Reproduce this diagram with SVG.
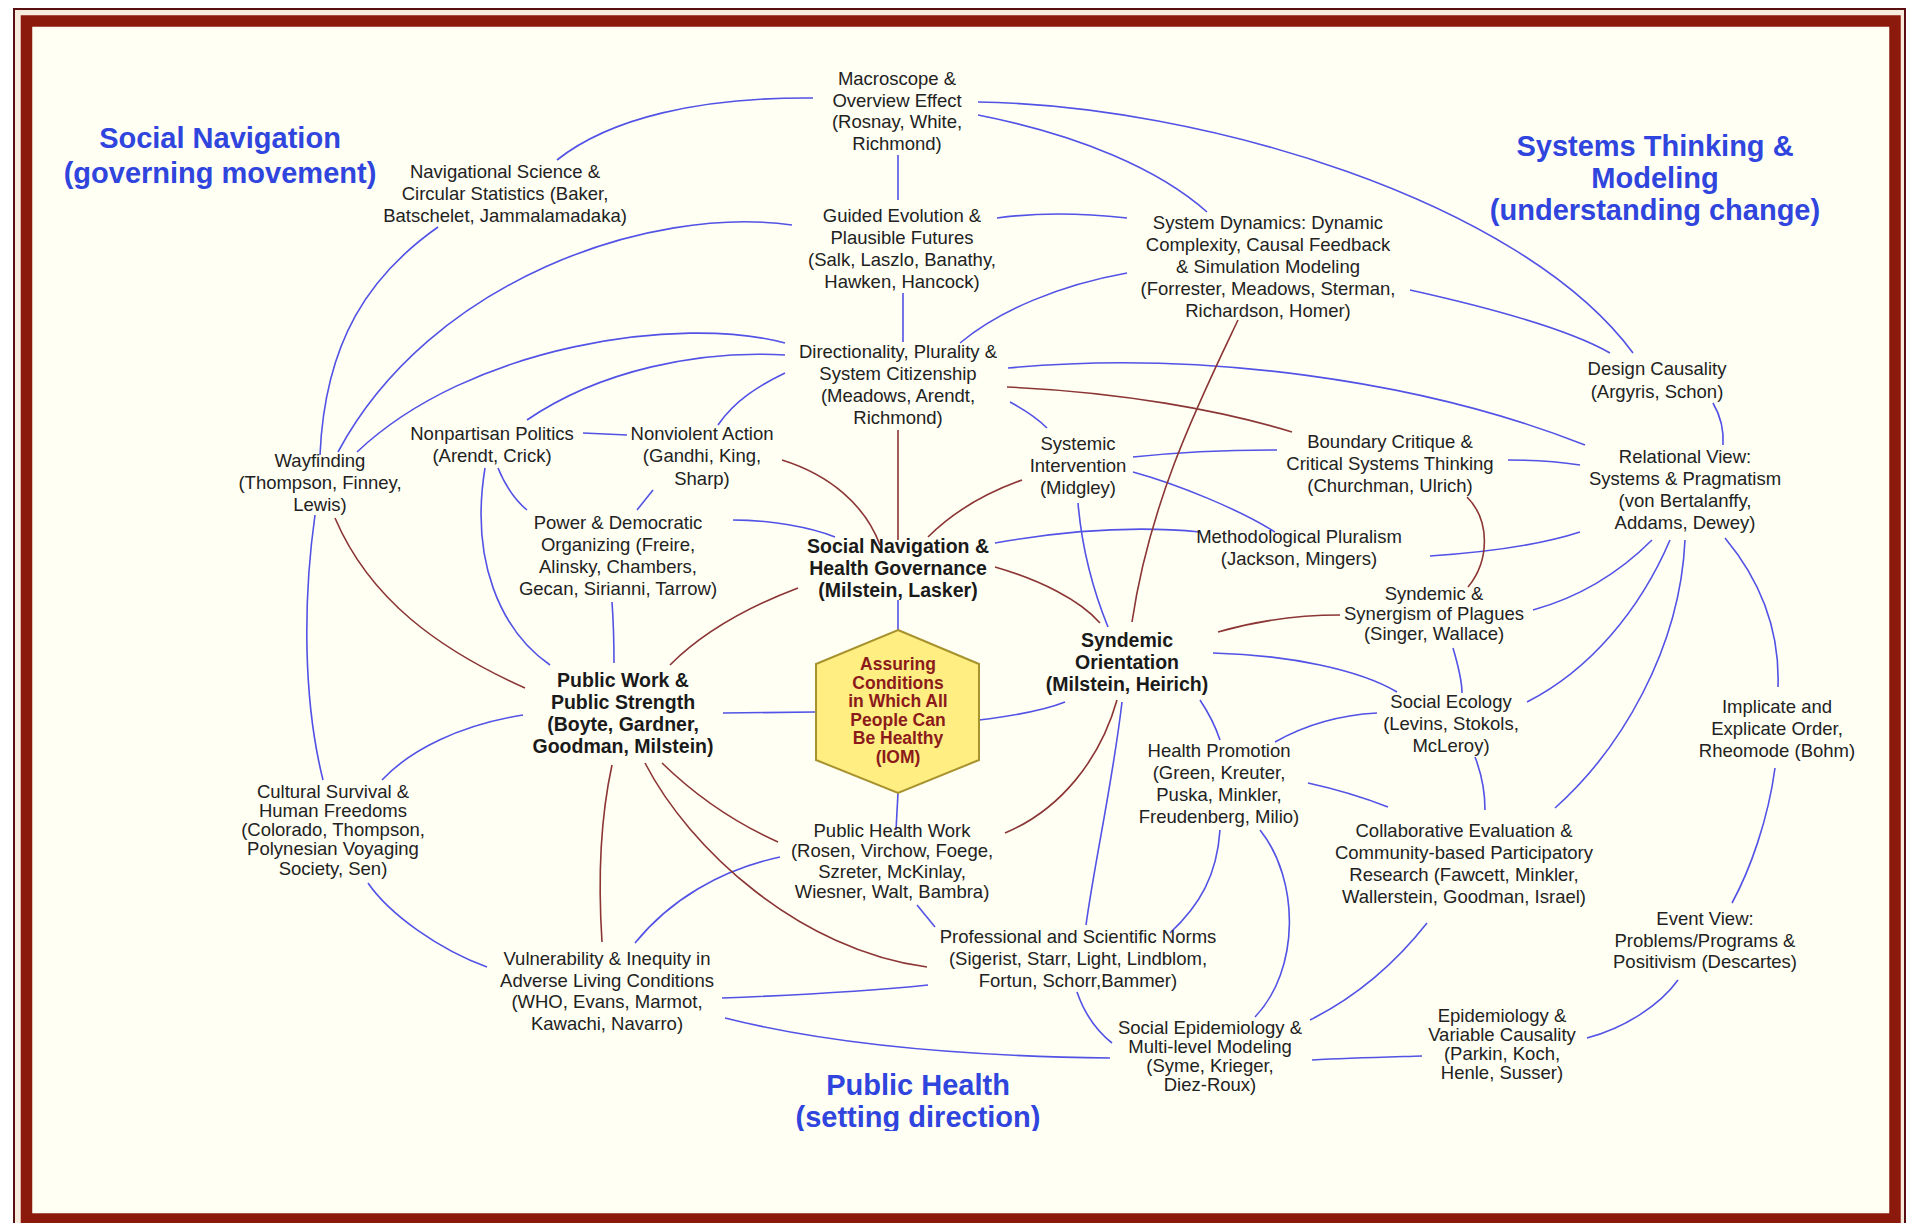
<svg xmlns="http://www.w3.org/2000/svg" width="1910" height="1223" viewBox="0 0 1910 1223">
<defs>
<style>
.n{font-family:"Liberation Sans",Arial,sans-serif;font-size:18.5px;fill:#222;text-anchor:middle}
.bn{font-family:"Liberation Sans",Arial,sans-serif;font-size:19.5px;font-weight:bold;fill:#1a1a1a;text-anchor:middle}
.t{font-family:"Liberation Sans",Arial,sans-serif;font-size:29px;font-weight:bold;fill:#2F45DD;text-anchor:middle}
.hx{font-family:"Liberation Sans",Arial,sans-serif;font-size:17.5px;font-weight:bold;fill:#8B1A1A;text-anchor:middle}
.b{stroke:#5252E6;stroke-width:1.6;fill:none}
.r{stroke:#8B3535;stroke-width:1.6;fill:none}
</style>
<clipPath id="clipPH"><rect x="0" y="0" width="1910" height="1131"/></clipPath>
</defs>
<rect x="0" y="0" width="1910" height="1223" fill="#FFFFFF"/>
<rect x="14" y="9" width="1891" height="1240" fill="#F6EBDD" stroke="#5A1010" stroke-width="2"/>
<rect x="26.5" y="21" width="1868.5" height="1198" fill="#FFFFF3" stroke="#8C1A0C" stroke-width="11.5"/>

<g id="titles">
<text class="t" x="220" y="148">Social Navigation</text>
<text class="t" x="220" y="183">(governing movement)</text>
<text class="t" x="1655" y="156">Systems Thinking &amp;</text>
<text class="t" x="1655" y="188">Modeling</text>
<text class="t" x="1655" y="220">(understanding change)</text>
<text class="t" x="918" y="1095">Public Health</text>
<text class="t" x="918" y="1127" clip-path="url(#clipPH)">(setting direction)</text>
</g>

<g id="connectors">
<path class="b" d="M557,160 C610,118 700,97 813,98"/>
<path class="b" d="M438,227 C370,275 325,340 320,455"/>
<path class="b" d="M792,225 C650,205 430,280 338,452"/>
<path class="b" d="M785,343 C680,315 470,345 357,452"/>
<path class="b" d="M785,355 C700,350 600,370 527,420"/>
<path class="b" d="M785,373 C760,385 735,400 718,425"/>
<path class="b" d="M583,433 L627,435"/>
<path class="b" d="M485,468 C470,560 500,630 550,665"/>
<path class="b" d="M498,468 C505,485 515,500 527,510"/>
<path class="b" d="M653,490 L637,510"/>
<path class="b" d="M733,520 C770,520 810,527 835,537"/>
<path class="b" d="M612,602 C614,630 614,650 614,663"/>
<path class="b" d="M723,713 L815,712"/>
<path class="b" d="M898,600 L898,630"/>
<path class="b" d="M898,793 L896,830"/>
<path class="b" d="M979,720 C1020,715 1045,710 1065,702"/>
<path class="b" d="M523,715 C460,725 410,750 382,780"/>
<path class="b" d="M315,515 C303,600 303,700 323,780"/>
<path class="b" d="M368,883 C390,915 440,950 487,967"/>
<path class="b" d="M635,943 C670,900 720,870 780,857"/>
<path class="b" d="M722,998 C800,995 880,990 928,985"/>
<path class="b" d="M725,1018 C820,1042 950,1056 1110,1058"/>
<path class="b" d="M917,905 L935,927"/>
<path class="b" d="M1122,702 C1113,780 1095,860 1086,925 M1077,992 C1085,1015 1098,1032 1112,1043"/>
<path class="b" d="M1200,700 C1210,715 1216,728 1220,740"/>
<path class="b" d="M1275,742 C1305,725 1340,715 1377,713"/>
<path class="b" d="M1213,653 C1290,655 1360,670 1397,692"/>
<path class="b" d="M1308,783 C1340,790 1365,798 1388,807"/>
<path class="b" d="M1220,830 C1217,875 1200,905 1170,933"/>
<path class="b" d="M1260,830 C1300,880 1300,970 1255,1017"/>
<path class="b" d="M1427,923 C1390,970 1350,1000 1310,1020"/>
<path class="b" d="M1312,1060 C1350,1058 1390,1057 1422,1056"/>
<path class="b" d="M1587,1038 C1625,1028 1660,1005 1678,980"/>
<path class="b" d="M1732,903 C1750,870 1768,820 1775,768"/>
<path class="b" d="M1725,538 C1760,580 1780,630 1778,687"/>
<path class="b" d="M1652,540 C1620,572 1580,597 1533,610"/>
<path class="b" d="M1670,540 C1640,610 1590,670 1527,702"/>
<path class="b" d="M1685,540 C1680,650 1620,750 1555,808"/>
<path class="b" d="M1430,556 C1490,552 1540,545 1580,532"/>
<path class="b" d="M1508,460 C1540,460 1560,462 1580,465"/>
<path class="b" d="M1008,368 C1200,350 1420,380 1585,445"/>
<path class="b" d="M978,102 C1200,105 1520,200 1633,353"/>
<path class="b" d="M978,115 C1080,135 1160,170 1207,212"/>
<path class="b" d="M997,218 C1040,212 1090,214 1127,218"/>
<path class="b" d="M1127,273 C1060,285 1000,310 960,343"/>
<path class="b" d="M1410,290 C1500,310 1570,330 1610,353"/>
<path class="b" d="M1713,403 C1720,415 1724,430 1723,445"/>
<path class="b" d="M898,155 L898,200"/>
<path class="b" d="M903,293 L903,342"/>
<path class="b" d="M1010,402 C1025,410 1037,418 1047,428"/>
<path class="b" d="M1133,457 C1180,452 1230,450 1277,450"/>
<path class="b" d="M1133,472 C1180,485 1240,510 1275,532"/>
<path class="b" d="M1078,503 C1082,550 1095,595 1108,627"/>
<path class="b" d="M995,543 C1080,528 1150,527 1200,532"/>
<path class="b" d="M1453,648 C1458,665 1462,680 1462,693"/>
<path class="b" d="M1475,757 C1482,775 1485,792 1485,810"/>
<path class="r" d="M335,518 C370,600 440,650 525,688"/>
<path class="r" d="M898,430 L898,540"/>
<path class="r" d="M782,460 C830,475 865,505 880,545"/>
<path class="r" d="M1022,480 C980,495 950,515 928,537"/>
<path class="r" d="M798,588 C740,610 700,635 670,665"/>
<path class="r" d="M995,567 C1040,580 1080,600 1100,623"/>
<path class="r" d="M1007,387 C1120,392 1220,410 1292,432"/>
<path class="r" d="M1238,320 C1200,400 1150,500 1132,622"/>
<path class="r" d="M1467,497 C1490,520 1490,560 1468,587"/>
<path class="r" d="M1218,632 C1260,620 1300,615 1340,615"/>
<path class="r" d="M1117,700 C1100,760 1060,810 1005,833"/>
<path class="r" d="M662,763 C700,800 740,825 778,842"/>
<path class="r" d="M645,763 C690,850 800,950 927,967"/>
<path class="r" d="M612,765 C600,820 598,880 602,942"/>
</g>

<g id="center">
<polygon points="898,630 979,664 979,760 898,793 816,760 816,664" fill="#FFEE82" stroke="#A8922E" stroke-width="2"/>
<text class="hx"><tspan x="898" y="670">Assuring</tspan><tspan x="898" y="689">Conditions</tspan><tspan x="898" y="707">in Which All</tspan><tspan x="898" y="726">People Can</tspan><tspan x="898" y="744">Be Healthy</tspan><tspan x="898" y="763">(IOM)</tspan></text>
</g>

<g id="macroscope"><text class="n"><tspan x="897" y="85">Macroscope &amp;</tspan><tspan x="897" y="107">Overview Effect</tspan><tspan x="897" y="128">(Rosnay, White,</tspan><tspan x="897" y="150">Richmond)</tspan></text></g>
<g id="guided"><text class="n"><tspan x="902" y="222">Guided Evolution &amp;</tspan><tspan x="902" y="244">Plausible Futures</tspan><tspan x="902" y="266">(Salk, Laszlo, Banathy,</tspan><tspan x="902" y="288">Hawken, Hancock)</tspan></text></g>
<g id="directionality"><text class="n"><tspan x="898" y="358">Directionality, Plurality &amp;</tspan><tspan x="898" y="380">System Citizenship</tspan><tspan x="898" y="402">(Meadows, Arendt,</tspan><tspan x="898" y="424">Richmond)</tspan></text></g>
<g id="sysdyn"><text class="n"><tspan x="1268" y="229">System Dynamics: Dynamic</tspan><tspan x="1268" y="251">Complexity, Causal Feedback</tspan><tspan x="1268" y="273">&amp; Simulation Modeling</tspan><tspan x="1268" y="295">(Forrester, Meadows, Sterman,</tspan><tspan x="1268" y="317">Richardson, Homer)</tspan></text></g>
<g id="navsci"><text class="n"><tspan x="505" y="178">Navigational Science &amp;</tspan><tspan x="505" y="200">Circular Statistics (Baker,</tspan><tspan x="505" y="222">Batschelet, Jammalamadaka)</tspan></text></g>
<g id="design"><text class="n"><tspan x="1657" y="375">Design Causality</tspan><tspan x="1657" y="398">(Argyris, Schon)</tspan></text></g>
<g id="relational"><text class="n"><tspan x="1685" y="463">Relational View:</tspan><tspan x="1685" y="485">Systems &amp; Pragmatism</tspan><tspan x="1685" y="507">(von Bertalanffy,</tspan><tspan x="1685" y="529">Addams, Dewey)</tspan></text></g>
<g id="wayfinding"><text class="n"><tspan x="320" y="467">Wayfinding</tspan><tspan x="320" y="489">(Thompson, Finney,</tspan><tspan x="320" y="511">Lewis)</tspan></text></g>
<g id="nonpartisan"><text class="n"><tspan x="492" y="440">Nonpartisan Politics</tspan><tspan x="492" y="462">(Arendt, Crick)</tspan></text></g>
<g id="nonviolent"><text class="n"><tspan x="702" y="440">Nonviolent Action</tspan><tspan x="702" y="462">(Gandhi, King,</tspan><tspan x="702" y="485">Sharp)</tspan></text></g>
<g id="power"><text class="n"><tspan x="618" y="529">Power &amp; Democratic</tspan><tspan x="618" y="551">Organizing (Freire,</tspan><tspan x="618" y="573">Alinsky, Chambers,</tspan><tspan x="618" y="595">Gecan, Sirianni, Tarrow)</tspan></text></g>
<g id="socnav"><text class="bn"><tspan x="898" y="553">Social Navigation &amp;</tspan><tspan x="898" y="575">Health Governance</tspan><tspan x="898" y="597">(Milstein, Lasker)</tspan></text></g>
<g id="methpl"><text class="n"><tspan x="1299" y="543">Methodological Pluralism</tspan><tspan x="1299" y="565">(Jackson, Mingers)</tspan></text></g>
<g id="sysint"><text class="n"><tspan x="1078" y="450">Systemic</tspan><tspan x="1078" y="472">Intervention</tspan><tspan x="1078" y="494">(Midgley)</tspan></text></g>
<g id="boundary"><text class="n"><tspan x="1390" y="448">Boundary Critique &amp;</tspan><tspan x="1390" y="470">Critical Systems Thinking</tspan><tspan x="1390" y="492">(Churchman, Ulrich)</tspan></text></g>
<g id="synergism"><text class="n"><tspan x="1434" y="600">Syndemic &amp;</tspan><tspan x="1434" y="620">Synergism of Plagues</tspan><tspan x="1434" y="640">(Singer, Wallace)</tspan></text></g>
<g id="syndemic"><text class="bn"><tspan x="1127" y="647">Syndemic</tspan><tspan x="1127" y="669">Orientation</tspan><tspan x="1127" y="691">(Milstein, Heirich)</tspan></text></g>
<g id="publicwork"><text class="bn"><tspan x="623" y="687">Public Work &amp;</tspan><tspan x="623" y="709">Public Strength</tspan><tspan x="623" y="731">(Boyte, Gardner,</tspan><tspan x="623" y="753">Goodman, Milstein)</tspan></text></g>
<g id="socecol"><text class="n"><tspan x="1451" y="708">Social Ecology</tspan><tspan x="1451" y="730">(Levins, Stokols,</tspan><tspan x="1451" y="752">McLeroy)</tspan></text></g>
<g id="healthpromo"><text class="n"><tspan x="1219" y="757">Health Promotion</tspan><tspan x="1219" y="779">(Green, Kreuter,</tspan><tspan x="1219" y="801">Puska, Minkler,</tspan><tspan x="1219" y="823">Freudenberg, Milio)</tspan></text></g>
<g id="implicate"><text class="n"><tspan x="1777" y="713">Implicate and</tspan><tspan x="1777" y="735">Explicate Order,</tspan><tspan x="1777" y="757">Rheomode (Bohm)</tspan></text></g>
<g id="cultural"><text class="n"><tspan x="333" y="798">Cultural Survival &amp;</tspan><tspan x="333" y="817">Human Freedoms</tspan><tspan x="333" y="836">(Colorado, Thompson,</tspan><tspan x="333" y="855">Polynesian Voyaging</tspan><tspan x="333" y="875">Society, Sen)</tspan></text></g>
<g id="phwork"><text class="n"><tspan x="892" y="837">Public Health Work</tspan><tspan x="892" y="857">(Rosen, Virchow, Foege,</tspan><tspan x="892" y="878">Szreter, McKinlay,</tspan><tspan x="892" y="898">Wiesner, Walt, Bambra)</tspan></text></g>
<g id="collab"><text class="n"><tspan x="1464" y="837">Collaborative Evaluation &amp;</tspan><tspan x="1464" y="859">Community-based Participatory</tspan><tspan x="1464" y="881">Research (Fawcett, Minkler,</tspan><tspan x="1464" y="903">Wallerstein, Goodman, Israel)</tspan></text></g>
<g id="eventview"><text class="n"><tspan x="1705" y="925">Event View:</tspan><tspan x="1705" y="947">Problems/Programs &amp;</tspan><tspan x="1705" y="968">Positivism (Descartes)</tspan></text></g>
<g id="vulnerability"><text class="n"><tspan x="607" y="965">Vulnerability &amp; Inequity in</tspan><tspan x="607" y="987">Adverse Living Conditions</tspan><tspan x="607" y="1008">(WHO, Evans, Marmot,</tspan><tspan x="607" y="1030">Kawachi, Navarro)</tspan></text></g>
<g id="profnorms"><text class="n"><tspan x="1078" y="943">Professional and Scientific Norms</tspan><tspan x="1078" y="965">(Sigerist, Starr, Light, Lindblom,</tspan><tspan x="1078" y="987">Fortun, Schorr,Bammer)</tspan></text></g>
<g id="socepi"><text class="n"><tspan x="1210" y="1034">Social Epidemiology &amp;</tspan><tspan x="1210" y="1053">Multi-level Modeling</tspan><tspan x="1210" y="1072">(Syme, Krieger,</tspan><tspan x="1210" y="1091">Diez-Roux)</tspan></text></g>
<g id="epivar"><text class="n"><tspan x="1502" y="1022">Epidemiology &amp;</tspan><tspan x="1502" y="1041">Variable Causality</tspan><tspan x="1502" y="1060">(Parkin, Koch,</tspan><tspan x="1502" y="1079">Henle, Susser)</tspan></text></g>
</svg>
